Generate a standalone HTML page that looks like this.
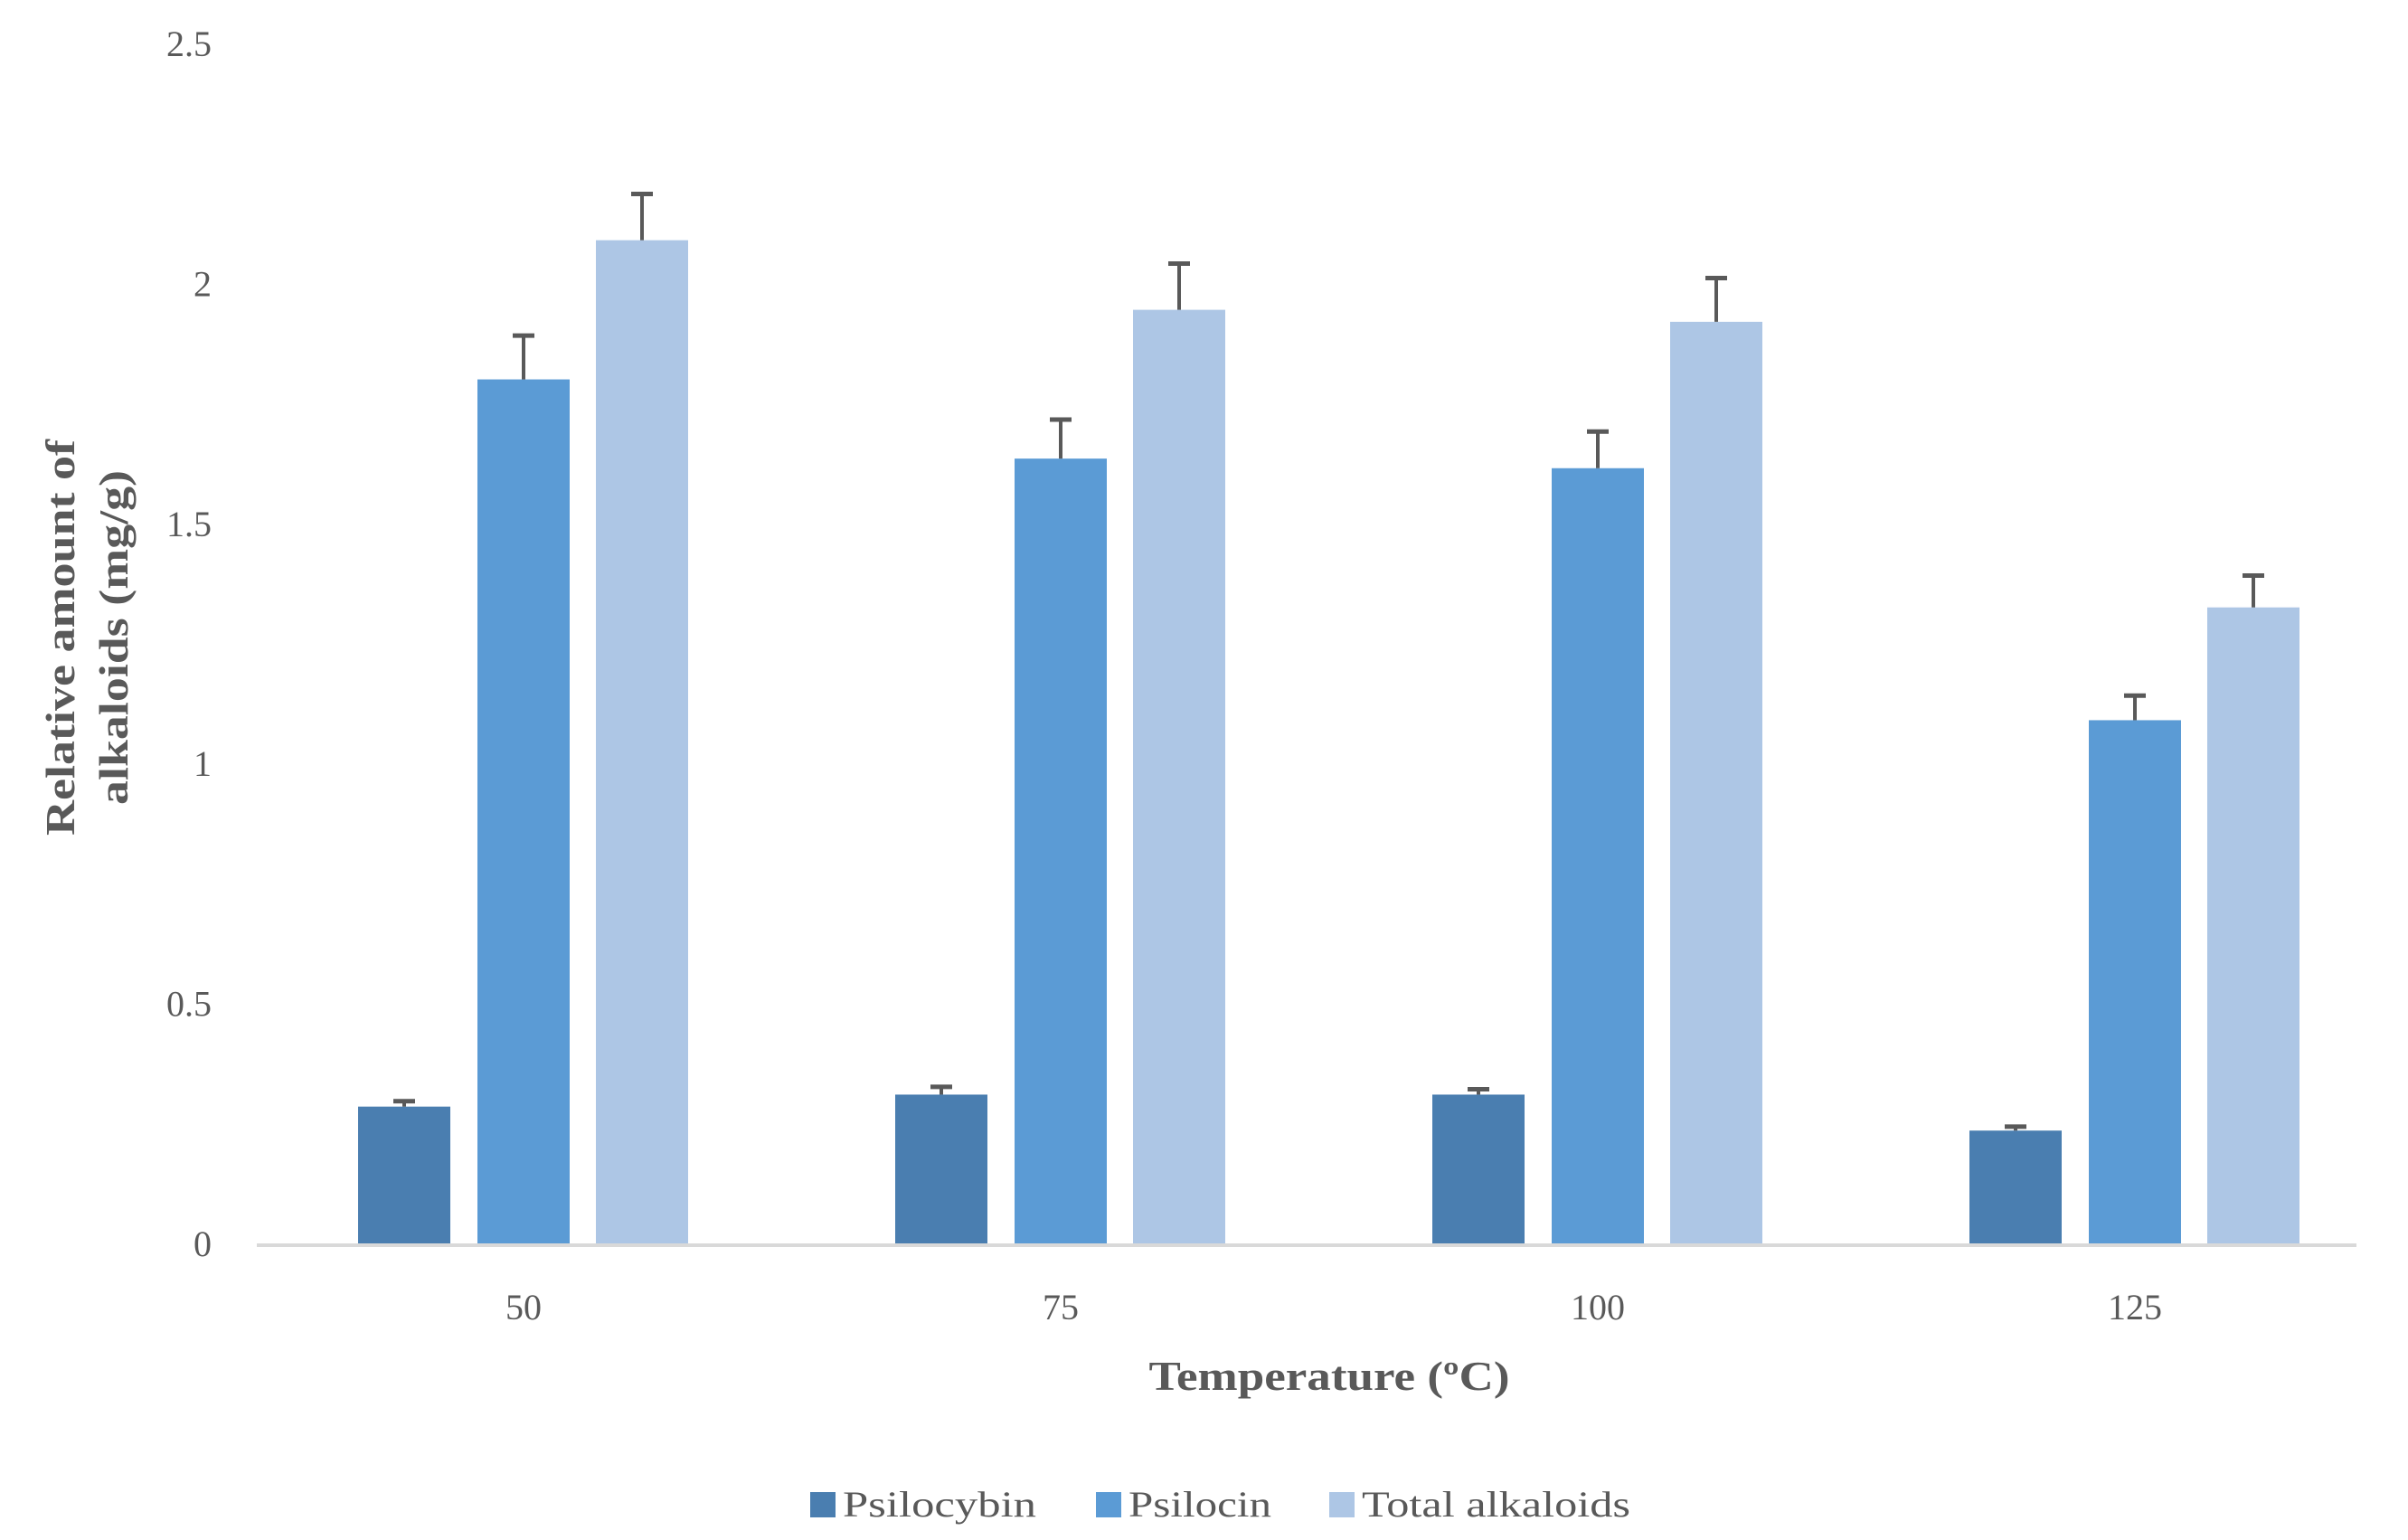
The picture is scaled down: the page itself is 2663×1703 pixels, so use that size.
<!DOCTYPE html>
<html><head><meta charset="utf-8"><style>
html,body{margin:0;padding:0;background:#fff}
svg{display:block}
text{font-family:"Liberation Serif",serif}
</style></head><body>
<svg id="chart" width="2663" height="1703" viewBox="0 0 2663 1703" xmlns="http://www.w3.org/2000/svg">
<rect width="2663" height="1703" fill="#fff"/>
<g id="yticks"></g>
<g id="bars"></g>
<line x1="284" x2="2606" y1="1377" y2="1377" stroke="#d9d9d9" stroke-width="4"/>
<g id="xticks"></g>
<text x="1470" y="1537" text-anchor="middle" font-size="46" font-weight="bold" fill="#595959" textLength="399" lengthAdjust="spacingAndGlyphs">Temperature (ºC)</text>
<g transform="translate(0,705) rotate(-90)">
<text x="0" y="82" text-anchor="middle" font-size="46" font-weight="bold" fill="#595959" textLength="438" lengthAdjust="spacingAndGlyphs">Relative amount of</text>
<text x="0" y="141" text-anchor="middle" font-size="46" font-weight="bold" fill="#595959" textLength="370" lengthAdjust="spacingAndGlyphs">alkaloids (mg/g)</text>
</g>
<g id="legend"></g>
</svg>
<script>
const categories = ["50","75","100","125"];
const seriesNames = ["Psilocybin","Psilocin","Total alkaloids"];
const psilocybin = [0.285,0.31,0.31,0.235];
const psilocybinErr = [0.015,0.02,0.015,0.012];
const psilocin = [1.80,1.635,1.615,1.09];
const psilocinErr = [0.095,0.085,0.08,0.055];
const total = [2.09,1.945,1.92,1.325];
const totalErr = [0.10,0.10,0.095,0.07];
const yTicks = [0,0.5,1,1.5,2,2.5];
const yTickLabels = ["0","0.5","1","1.5","2","2.5"];

const NS="http://www.w3.org/2000/svg";
const colors=["#4a7eb0","#5b9bd5","#adc6e5"];
const y0=1375, yTop=48, yMax=2.5;
function y(v){return y0-(v/yMax)*(y0-yTop);}
const cx0=579, cStep=594;
function xc(i){return cx0+i*cStep;}
const offs=[-132,0,131], bw=102;
function mk(tag,attrs,parent){const e=document.createElementNS(NS,tag);for(const k in attrs)e.setAttribute(k,attrs[k]);parent.appendChild(e);return e;}

const yt=document.getElementById('yticks');
yTicks.forEach((v,i)=>{
  const t=mk('text',{x:234,y:y(v)+14,'text-anchor':'end','font-size':40,fill:'#595959'},yt);
  
  
  t.textContent=yTickLabels[i];
});
const xt=document.getElementById('xticks');
categories.forEach((c,i)=>{
  const t=mk('text',{x:xc(i),y:1459,'text-anchor':'middle','font-size':40,fill:'#595959'},xt);
  
  
  t.textContent=c;
});
const series=[psilocybin,psilocin,total], errs=[psilocybinErr,psilocinErr,totalErr];
const bg=document.getElementById('bars');
series.forEach((s,si)=>{
  s.forEach((v,i)=>{
    const cx=xc(i)+offs[si];
    const r=mk('rect',{x:cx-bw/2,y:y(v),width:bw,height:y0-y(v),fill:colors[si]},bg);
    
    
    const top=y(v+errs[si][i]);
    const l=mk('line',{x1:cx,x2:cx,y1:y(v),y2:top,stroke:'#595959','stroke-width':4},bg);
    
    
    const cap=mk('line',{x1:cx-12,x2:cx+12,y1:top+2,y2:top+2,stroke:'#595959','stroke-width':5},bg);
    
    
  });
});
const lg=document.getElementById('legend');
const lx=[896,1212,1470], lw=[214,158,297];
seriesNames.forEach((n,i)=>{
  const sq=mk('rect',{x:lx[i],y:1650,width:28,height:28,fill:colors[i]},lg);
  
  
  const t=mk('text',{x:lx[i]+36,y:1677,'font-size':40,fill:'#595959',textLength:lw[i],lengthAdjust:'spacingAndGlyphs'},lg);
  
  
  t.textContent=n;
});
</script>
</body></html>
